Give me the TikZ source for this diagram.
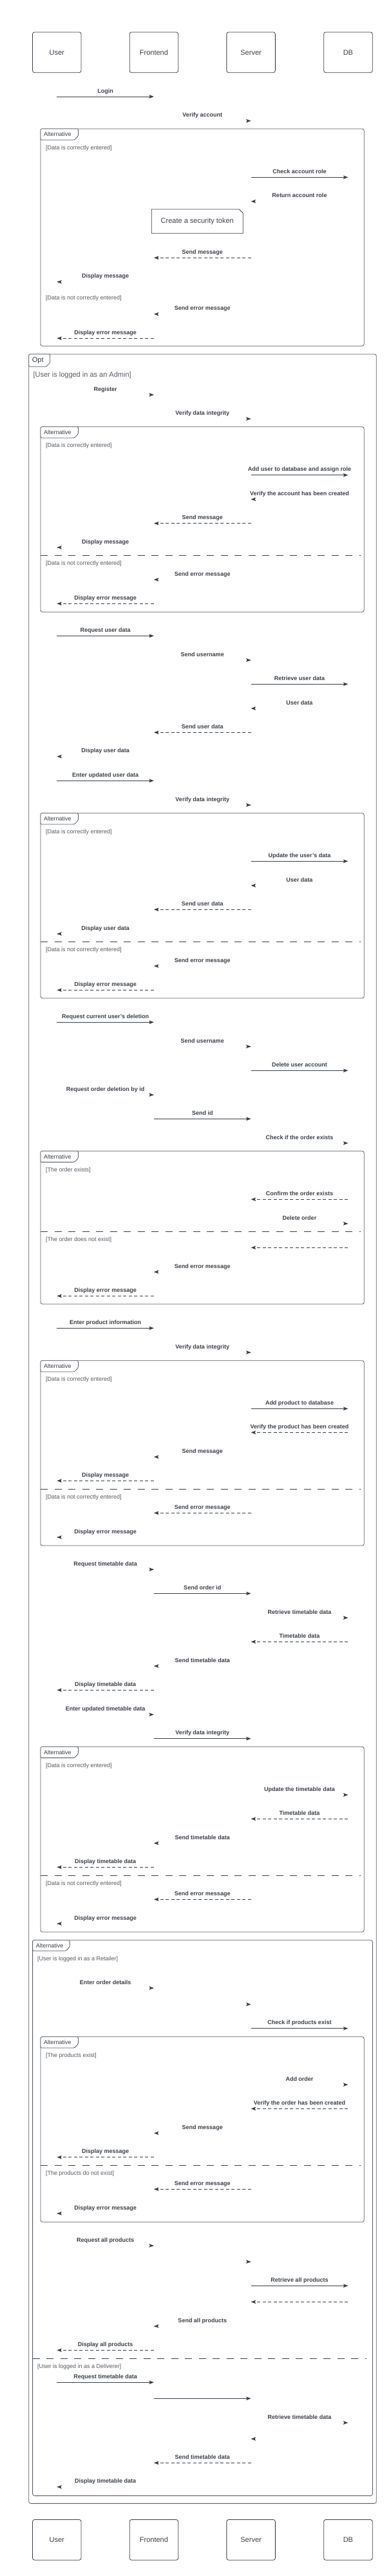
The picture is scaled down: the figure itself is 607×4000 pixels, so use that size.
\documentclass[tikz,border=0pt]{standalone}
\usepackage{fontspec}
\setmainfont{Liberation Sans}
\usetikzlibrary{arrows.meta,calc}
\definecolor{ink}{HTML}{3A3F47}
\definecolor{guardink}{HTML}{555A61}

\newcommand{\call}[4]{\draw[msg] (#1|-0,#3) -- (#2|-0,#3) node[lbl] {#4};}
\newcommand{\reply}[4]{\draw[msg,back] (#1|-0,#3) -- (#2|-0,#3) node[lbl] {#4};}
\newcommand{\stub}[4]{\path (#1|-0,#3) -- (#2|-0,#3) node[lbl] {#4};
  \draw[msg] ($(#2|-0,#3)!1pt!(#1|-0,#3)$) -- (#2|-0,#3);}
\newcommand{\fragment}[7]{%
  \draw[frame,rounded corners=3pt] (#1,#2) rectangle (#3,#4);
  \draw[frame,fill=white,rounded corners=1.5pt] (#1,#2+#6) -- (#1,#2) -- (#1+#5,#2)
    -- (#1+#5,#2+#6-6) -- (#1+#5-6,#2+#6) -- cycle;
  \node[tabtext] at (#1+5,#2+#6/2) {#7};}

\begin{document}
\begin{tikzpicture}[x=1pt,y=-1pt,
  actor/.style={draw=ink,line width=0.8pt,rounded corners=3pt,minimum width=75.5pt,
    minimum height=62.7pt,text=ink,font=\fontsize{11}{13}\selectfont},
  msg/.style={draw=ink,line width=0.9pt,-{Stealth[length=7.5pt,width=5.5pt,inset=1.5pt]}},
  back/.style={dash pattern=on 5pt off 3.5pt},
  lbl/.style={midway,anchor=base,yshift=6pt,inner sep=0pt,text=ink,
    font=\fontsize{9}{10}\selectfont\bfseries},
  frame/.style={draw=ink!85,line width=0.8pt},
  sep/.style={draw=ink,line width=0.9pt,dash pattern=on 11pt off 10.5pt},
  tabtext/.style={anchor=west,inner sep=0pt,text=ink,font=\fontsize{9}{10}\selectfont},
  guard/.style={anchor=west,inner sep=0pt,text=guardink,font=\fontsize{9}{11}\selectfont}]
\useasboundingbox (0,0) rectangle (607,4000);

\node[actor] (u) at (88.3,81.3) {User};
\node[actor] (f) at (238.9,81.3) {Frontend};
\node[actor] (s) at (389.6,81.3) {Server};
\node[actor] (d) at (540.4,81.3) {DB};

\fragment{63}{200}{565.2}{537.3}{58.4}{17.3}{Alternative}
\fragment{44.7}{550}{584.3}{3887.3}{33.1}{19.3}{\fontsize{11}{13}\selectfont Opt}
\fragment{63}{662.7}{565.2}{950.3}{58.4}{17.3}{Alternative}
\fragment{63}{1262.7}{565.2}{1550}{58.4}{17.3}{Alternative}
\fragment{63}{1787.3}{565.2}{2025}{58.4}{17.3}{Alternative}
\fragment{63}{2112.7}{565.2}{2400}{58.4}{17.3}{Alternative}
\fragment{63}{2712.3}{565.2}{3000}{58.4}{17.3}{Alternative}
\fragment{50.6}{3012.7}{578.4}{3875.3}{57.5}{16.6}{Alternative}
\fragment{63}{3162.7}{565.2}{3450.3}{58.4}{17.3}{Alternative}

\draw[sep] (63,862.3) -- (560,862.3);
\draw[sep] (63,1462.7) -- (560,1462.7);
\draw[sep] (63,1912.3) -- (560,1912.3);
\draw[sep] (63,2312.3) -- (560,2312.3);
\draw[sep] (63,2912.3) -- (560,2912.3);
\draw[sep] (63,3362.3) -- (560,3362.3);
\draw[sep] (50.6,3662.3) -- (568.7,3662.3);

\node[guard] (g1) at (70.8,230) {[Data is correctly entered]};
\node[guard] (g2) at (70.8,462.7) {[Data is not correctly entered]};
\node[guard,font=\fontsize{11}{13}\selectfont] (admin) at (51.3,582.3) {[User is logged in as an Admin]};
\node[guard] (g3) at (70.8,692.3) {[Data is correctly entered]};
\node[guard] (g4) at (70.8,875) {[Data is not correctly entered]};
\node[guard] (g5) at (70.8,1292) {[Data is correctly entered]};
\node[guard] (g6) at (70.8,1475) {[Data is not correctly entered]};
\node[guard] (g7) at (70.8,1816.7) {[The order exists]};
\node[guard] (g8) at (70.8,1925) {[The order does not exist]};
\node[guard] (g9) at (70.8,2142) {[Data is correctly entered]};
\node[guard] (g10) at (70.8,2325) {[Data is not correctly entered]};
\node[guard] (g11) at (70.8,2742) {[Data is correctly entered]};
\node[guard] (g12) at (70.8,2925) {[Data is not correctly entered]};
\node[guard] (retailer) at (58,3042) {[User is logged in as a Retailer]};
\node[guard] (g13) at (70.8,3192) {[The products exist]};
\node[guard] (g14) at (70.8,3375) {[The products do not exist]};
\node[guard] (deliverer) at (58,3675) {[User is logged in as a Deliverer]};

\draw[draw=ink,line width=0.8pt] (235.3,325) -- (371.3,325) -- (377.3,331) -- (377.3,362.3)
  -- (235.3,362.3) -- cycle;
\node[text=ink,font=\fontsize{11}{13}\selectfont] (token) at (306.3,343.7) {Create a security token};

\call{u}{f}{150}{Login}
\stub{f}{s}{187.7}{Verify account}
\call{s}{d}{275.3}{Check account role}
\stub{d}{s}{312.7}{Return account role}
\reply{s}{f}{400.3}{Send message}
\stub{f}{u}{437.7}{Display message}
\stub{s}{f}{487.7}{Send error message}
\reply{f}{u}{525.3}{Display error message}
\stub{u}{f}{613}{Register}
\stub{f}{s}{650.3}{Verify data integrity}
\call{s}{d}{737.7}{Add user to database and assign role}
\stub{d}{s}{775.3}{Verify the account has been created}
\reply{s}{f}{812.7}{Send message}
\stub{f}{u}{850}{Display message}
\stub{s}{f}{900}{Send error message}
\reply{f}{u}{937.3}{Display error message}
\call{u}{f}{987.3}{Request user data}
\stub{f}{s}{1025}{Send username}
\call{s}{d}{1062.3}{Retrieve user data}
\stub{d}{s}{1100}{User data}
\reply{s}{f}{1137.3}{Send user data}
\stub{f}{u}{1174.7}{Display user data}
\call{u}{f}{1212.3}{Enter updated user data}
\stub{f}{s}{1250}{Verify data integrity}
\call{s}{d}{1337.3}{Update the user’s data}
\stub{d}{s}{1375}{User data}
\reply{s}{f}{1412.3}{Send user data}
\stub{f}{u}{1450}{Display user data}
\stub{s}{f}{1500}{Send error message}
\reply{f}{u}{1537.3}{Display error message}
\call{u}{f}{1587.3}{Request current user’s deletion}
\stub{f}{s}{1625}{Send username}
\call{s}{d}{1662.3}{Delete user account}
\stub{u}{f}{1700}{Request order deletion by id}
\call{f}{s}{1737.3}{Send id}
\stub{s}{d}{1775}{Check if the order exists}
\reply{d}{s}{1862.3}{Confirm the order exists}
\stub{s}{d}{1900}{Delete order}
\reply{d}{s}{1937.3}{}
\stub{s}{f}{1975}{Send error message}
\reply{f}{u}{2012.3}{Display error message}
\call{u}{f}{2062.3}{Enter product information}
\stub{f}{s}{2100}{Verify data integrity}
\call{s}{d}{2187.3}{Add product to database}
\reply{d}{s}{2224.3}{Verify the product has been created}
\stub{s}{f}{2262.3}{Send message}
\reply{f}{u}{2299.3}{Display message}
\reply{s}{f}{2349.3}{Send error message}
\stub{f}{u}{2387}{Display error message}
\stub{u}{f}{2437}{Request timetable data}
\call{f}{s}{2474.3}{Send order id}
\stub{s}{d}{2512}{Retrieve timetable data}
\reply{d}{s}{2549.3}{Timetable data}
\stub{s}{f}{2587}{Send timetable data}
\reply{f}{u}{2624.3}{Display timetable data}
\stub{u}{f}{2662.3}{Enter updated timetable data}
\call{f}{s}{2699.7}{Verify data integrity}
\stub{s}{d}{2787}{Update the timetable data}
\reply{d}{s}{2824.3}{Timetable data}
\stub{s}{f}{2862}{Send timetable data}
\reply{f}{u}{2899.3}{Display timetable data}
\reply{s}{f}{2949.3}{Send error message}
\stub{f}{u}{2987}{Display error message}
\stub{u}{f}{3087}{Enter order details}
\stub{f}{s}{3112.3}{}
\call{s}{d}{3149.7}{Check if products exist}
\stub{s}{d}{3237}{Add order}
\reply{d}{s}{3274.3}{Verify the order has been created}
\stub{s}{f}{3312.3}{Send message}
\reply{f}{u}{3349.7}{Display message}
\reply{s}{f}{3399.3}{Send error message}
\stub{f}{u}{3437}{Display error message}
\stub{u}{f}{3487}{Request all products}
\stub{f}{s}{3512}{}
\call{s}{d}{3549.3}{Retrieve all products}
\reply{d}{s}{3574.3}{}
\stub{s}{f}{3612}{Send all products}
\reply{f}{u}{3649.3}{Display all products}
\call{u}{f}{3699.3}{Request timetable data}
\call{f}{s}{3724.3}{}
\stub{s}{d}{3762}{Retrieve timetable data}
\stub{d}{s}{3787}{}
\reply{s}{f}{3824.3}{Send timetable data}
\stub{f}{u}{3861.7}{Display timetable data}

\node[actor] (u2) at (88.3,3943.8) {User};
\node[actor] (f2) at (238.9,3943.8) {Frontend};
\node[actor] (s2) at (389.6,3943.8) {Server};
\node[actor] (d2) at (540.4,3943.8) {DB};
\end{tikzpicture}
\end{document}
